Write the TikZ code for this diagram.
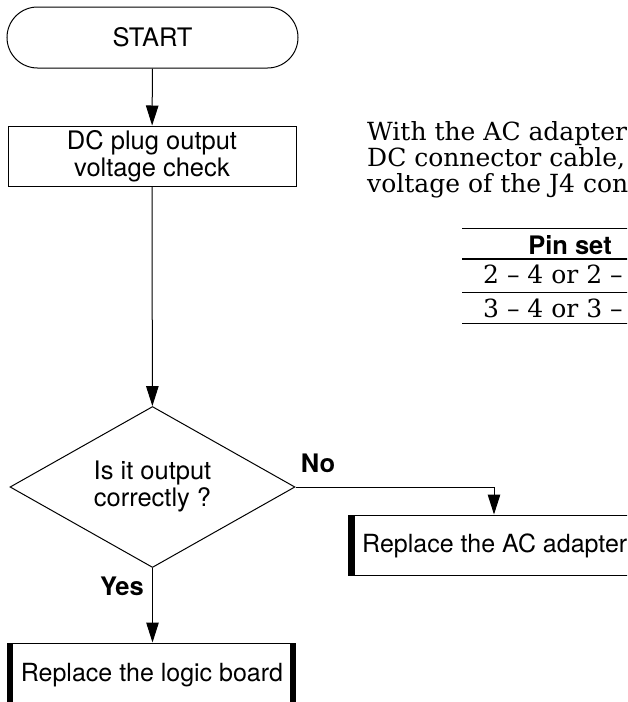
\documentclass[tikz,border=0pt]{standalone}
\usepackage{fontspec}
\setmainfont{DejaVu Serif}
\setsansfont{TeX Gyre Heros}
\usetikzlibrary{arrows.meta,shapes.geometric}
\tikzset{
  sanstxt/.style={font=\sffamily\fontsize{25.5}{27}\selectfont, align=center},
  boldlbl/.style={font=\sffamily\bfseries\fontsize{25.5}{27}\selectfont, inner sep=0pt},
  sertxt/.style={font=\rmfamily\fontsize{25}{26}\selectfont, inner sep=0pt, anchor=base west},
  flowbox/.style={draw, line width=1pt, rectangle, inner sep=0pt},
  arr/.style={line width=1pt, -{Triangle[length=20pt,width=12.5pt]}},
  plainline/.style={line width=1pt},
  barfill/.style={fill=black, draw=none},
}
\begin{document}
\begin{tikzpicture}[x=1pt,y=-1pt]
\useasboundingbox (0,0) rectangle (627,702);
\clip (0,0) rectangle (627,702);
% start
\node[flowbox, sanstxt, rounded corners=30.5pt, minimum width=291pt, minimum height=61pt] (start) at (152.5,37.5) {START};
% dc check
\node[flowbox, sanstxt, minimum width=288pt, minimum height=60pt] (dc) at (152,156) {DC plug output\\voltage check};
% decision
\node[draw, line width=1pt, diamond, minimum width=285pt, minimum height=161pt, inner sep=0pt] (dia) at (152.5,487) {};
\node[sanstxt] (diatext) at (152.5,486) {Is it output\\correctly ?};
% logic board
\node[flowbox, sanstxt, minimum width=288pt, minimum height=68pt] (logic) at (151,677) {};
\fill[barfill] (logic.north west) rectangle ([xshift=6pt]logic.south west);
\fill[barfill] ([xshift=-6pt]logic.north east) rectangle (logic.south east);
\node[sanstxt, font=\sffamily\fontsize{25}{27}\selectfont] (logictext) at (152,675) {Replace the logic board};
% AC adapter
\node[flowbox, minimum width=292pt, minimum height=60pt] (ac) at (494,545) {};
\fill[barfill] (ac.north west) rectangle ([xshift=7pt]ac.south west);
\node[sanstxt, font=\sffamily\fontsize{25}{27}\selectfont, anchor=west, inner sep=0pt] (actext) at (362,546) {Replace the AC adapter};
% connectors
\draw[arr] (start) -- (dc);
\draw[arr] (dc) -- (dia);
\draw[arr] (dia.south) -- (dia.south |- logic.north);
\draw[arr] (dia.east) -| (ac.north);
% labels
\node[boldlbl] (yes) at (122,586) {Yes};
\node[boldlbl] (no) at (318,463) {No};
% note text
\node[sertxt] (n1) at (367,140) {With the AC adapter};
\node[sertxt] (n2) at (367,166) {DC connector cable,};
\node[sertxt] (n3) at (367,192) {voltage of the J4 con};
% table
\draw[plainline] (462,228) -- (640,228);
\draw[line width=1.7pt] (462,259) -- (640,259);
\draw[plainline] (462,292) -- (640,292);
\draw[plainline] (462,323) -- (640,323);
\node[boldlbl] (pinset) at (570,245) {Pin set};
\node[sertxt] (r1) at (483,283) {2 \textendash\ 4 or 2 \textendash};
\node[sertxt] (r2) at (483,317) {3 \textendash\ 4 or 3 \textendash};
\end{tikzpicture}
\end{document}
